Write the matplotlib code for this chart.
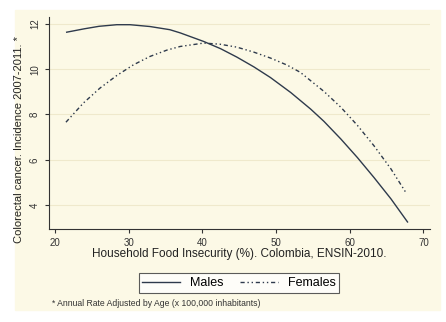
import matplotlib.pyplot as plt
from matplotlib.patches import Rectangle

plt.rcParams['font.family'] = ['Liberation Sans', 'DejaVu Sans']

# values
x_males = [21.6, 24.0, 26.0, 28.4, 30.2, 32.9, 35.6, 37.0, 40.2, 42.5, 44.7,
           47.0, 49.25, 52.0, 54.7, 56.5, 58.8, 61.05, 63.3, 65.6, 67.85]
y_males = [11.63, 11.78, 11.89, 11.96, 11.96, 11.88, 11.74, 11.60, 11.22, 10.90, 10.53,
           10.10, 9.63, 8.97, 8.24, 7.70, 6.92, 6.10, 5.22, 4.28, 3.26]
x_females = [21.5, 23.85, 26.1, 28.4, 30.65, 32.9, 35.2, 37.0, 40.2, 42.4, 44.7,
             47.0, 49.25, 51.5, 53.3, 56.5, 58.8, 61.05, 63.3, 65.6, 67.7]
y_females = [7.66, 8.50, 9.16, 9.72, 10.19, 10.56, 10.84, 11.0, 11.15, 11.1, 10.97,
             10.75, 10.49, 10.18, 9.86, 9.02, 8.32, 7.52, 6.62, 5.60, 4.52]
x_ticks = [20, 30, 40, 50, 60, 70]
y_ticks = [4, 6, 8, 10, 12]

cream = '#fcf9e6'
line_col = '#2e3a4c'

fig = plt.figure(figsize=(4.46, 3.22), dpi=100)
bg = Rectangle((15 / 446, 12 / 322), 425 / 446, 300 / 322,
               transform=fig.transFigure, color=cream, zorder=-10)
fig.add_artist(bg)

ax = fig.add_axes([49 / 446, 1 - 229 / 322, 381 / 446, 212 / 322])
ax.set_zorder(1)
ax.set_facecolor(cream)

ax.plot(x_males, y_males, color=line_col, lw=1.0, label='Males')
ax.plot(x_females, y_females, color=line_col, lw=1.0,
        linestyle=(0, (3, 2, 1, 2, 1, 2)), label='Females')

ax.set_xlim(19.2, 70.9)
ax.set_ylim(2.95, 12.3)
ax.set_xticks(x_ticks)
ax.set_yticks(y_ticks)
ax.set_yticklabels([str(v) for v in y_ticks], rotation=90, va='center')
ax.tick_params(labelsize=7, length=3, color='#333333', labelcolor='#333333')
ax.grid(axis='y', color='#efe9cc', lw=0.8)
ax.set_axisbelow(True)
for s in ['top', 'right']:
    ax.spines[s].set_visible(False)
for s in ['left', 'bottom']:
    ax.spines[s].set_color('#333333')

ax.set_xlabel('Household Food Insecurity (%). Colombia, ENSIN-2010.',
              fontsize=8.5, labelpad=0, color='#222222')
ax.set_ylabel('Colorectal cancer. Incidence 2007-2011. *',
              fontsize=8, color='#222222')
ax.yaxis.set_label_coords(-0.066, 0.42)

leg = ax.legend(loc='center', bbox_to_anchor=(239 / 446, 1 - 283 / 322),
                bbox_transform=fig.transFigure, ncol=2, fontsize=9,
                frameon=True, fancybox=False, handlelength=3.0,
                columnspacing=1.35, borderpad=0.3, handletextpad=0.8)
leg.get_frame().set_edgecolor('#333333')
leg.get_frame().set_facecolor('white')
leg.get_frame().set_linewidth(0.8)

fig.text(52 / 446, 1 - 304 / 322,
         '* Annual Rate Adjusted by Age (x 100,000 inhabitants)',
         fontsize=6.2, color='#333333', va='center')

fig.savefig('out.png', dpi=100)
